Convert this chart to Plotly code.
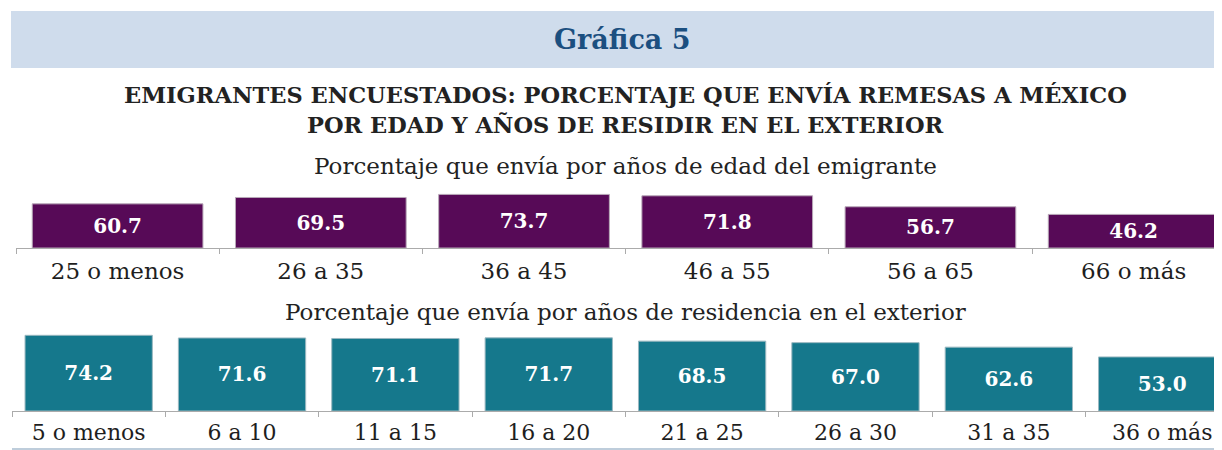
import plotly.graph_objects as go

edad_cats = ["25 o menos", "26 a 35", "36 a 45", "46 a 55", "56 a 65", "66 o más"]
edad_vals = [60.7, 69.5, 73.7, 71.8, 56.7, 46.2]

res_cats = ["5 o menos", "6 a 10", "11 a 15", "16 a 20", "21 a 25", "26 a 30", "31 a 35", "36 o más"]
res_vals = [74.2, 71.6, 71.1, 71.7, 68.5, 67.0, 62.6, 53.0]

FONT = "DejaVu Serif"
PURPLE = "#570a57"
TEAL = "#15788c"
OFF = 8  # page body margin
W, H = 1222 - OFF, 450 - OFF

def px_x(x):
    return (x - OFF) / W

def px_y(y):
    return 1 - (y - OFF) / H

fig = go.Figure()
fig.add_trace(go.Bar(
    x=edad_cats, y=edad_vals, xaxis="x", yaxis="y",
    marker=dict(color=PURPLE, line=dict(color="#b8a8b8", width=1)),
    width=0.84,
    text=[f"{v:.1f}" for v in edad_vals], textposition="inside",
    insidetextanchor="middle",
    textfont=dict(family=FONT, size=20, color="white", weight="bold"),
    hoverinfo="skip", showlegend=False,
))
fig.add_trace(go.Bar(
    x=res_cats, y=res_vals, xaxis="x2", yaxis="y2",
    marker=dict(color=TEAL, line=dict(color="#9ab8c0", width=1)),
    width=0.83,
    text=[f"{v:.1f}" for v in res_vals], textposition="inside",
    insidetextanchor="middle",
    textfont=dict(family=FONT, size=20, color="white", weight="bold"),
    hoverinfo="skip", showlegend=False,
))

top_base, top_top = 248, 185
bot_base, bot_top = 411, 325

def axis_common(size):
    return dict(
        type="category", showgrid=False, zeroline=False,
        showline=True, linecolor="#ababab", linewidth=1.2,
        ticks="outside", tickson="boundaries", ticklen=5, tickcolor="#ababab",
        tickfont=dict(family=FONT, size=size, color="#1e1e1e"),
        fixedrange=True,
    )

fig.update_layout(
    width=W, height=H,
    margin=dict(l=0, r=0, t=0, b=0),
    paper_bgcolor="white", plot_bgcolor="rgba(0,0,0,0)",
    xaxis=dict(domain=[px_x(16), px_x(1219)], anchor="y", range=[-0.5, 5.42],
               ticklabelstandoff=2, **axis_common(23)),
    yaxis=dict(domain=[px_y(top_base), px_y(top_top)], range=[0, (top_base - top_top) / 0.727],
               visible=False, fixedrange=True),
    xaxis2=dict(domain=[px_x(12), 1], anchor="y2", range=[-0.5, 7.39],
                ticklabelstandoff=1, **axis_common(22)),
    yaxis2=dict(domain=[px_y(bot_base), px_y(bot_top)], range=[0, (bot_base - bot_top) / 1.02],
                visible=False, fixedrange=True),
    shapes=[
        dict(type="rect", xref="paper", yref="paper", x0=px_x(11), x1=1, y0=px_y(68), y1=px_y(11),
             fillcolor="#cfdcec", line=dict(width=0), layer="below"),
        dict(type="line", xref="paper", yref="paper", x0=px_x(12), x1=1, y0=px_y(449), y1=px_y(449),
             line=dict(color="#a9bccf", width=1.5)),
    ],
    annotations=[
        dict(text="Gráfica 5", xref="paper", yref="paper", x=px_x(622), y=px_y(40),
             xanchor="center", yanchor="middle", showarrow=False,
             font=dict(family=FONT, size=27, color="#1b4f80", weight="bold")),
        dict(text="EMIGRANTES ENCUESTADOS: PORCENTAJE QUE ENVÍA REMESAS A MÉXICO",
             xref="paper", yref="paper", x=px_x(625), y=px_y(95),
             xanchor="center", yanchor="middle", showarrow=False,
             font=dict(family=FONT, size=22.5, color="#222222", weight="bold")),
        dict(text="POR EDAD Y AÑOS DE RESIDIR EN EL EXTERIOR",
             xref="paper", yref="paper", x=px_x(625), y=px_y(125),
             xanchor="center", yanchor="middle", showarrow=False,
             font=dict(family=FONT, size=22.5, color="#222222", weight="bold")),
        dict(text="Porcentaje que envía por años de edad del emigrante", xref="paper", yref="paper",
             x=px_x(625), y=px_y(166), xanchor="center", yanchor="middle", showarrow=False,
             font=dict(family=FONT, size=23, color="#222222")),
        dict(text="Porcentaje que envía por años de residencia en el exterior", xref="paper", yref="paper",
             x=px_x(625), y=px_y(312), xanchor="center", yanchor="middle", showarrow=False,
             font=dict(family=FONT, size=23, color="#222222")),
    ],
)

fig.write_html("out.html")
